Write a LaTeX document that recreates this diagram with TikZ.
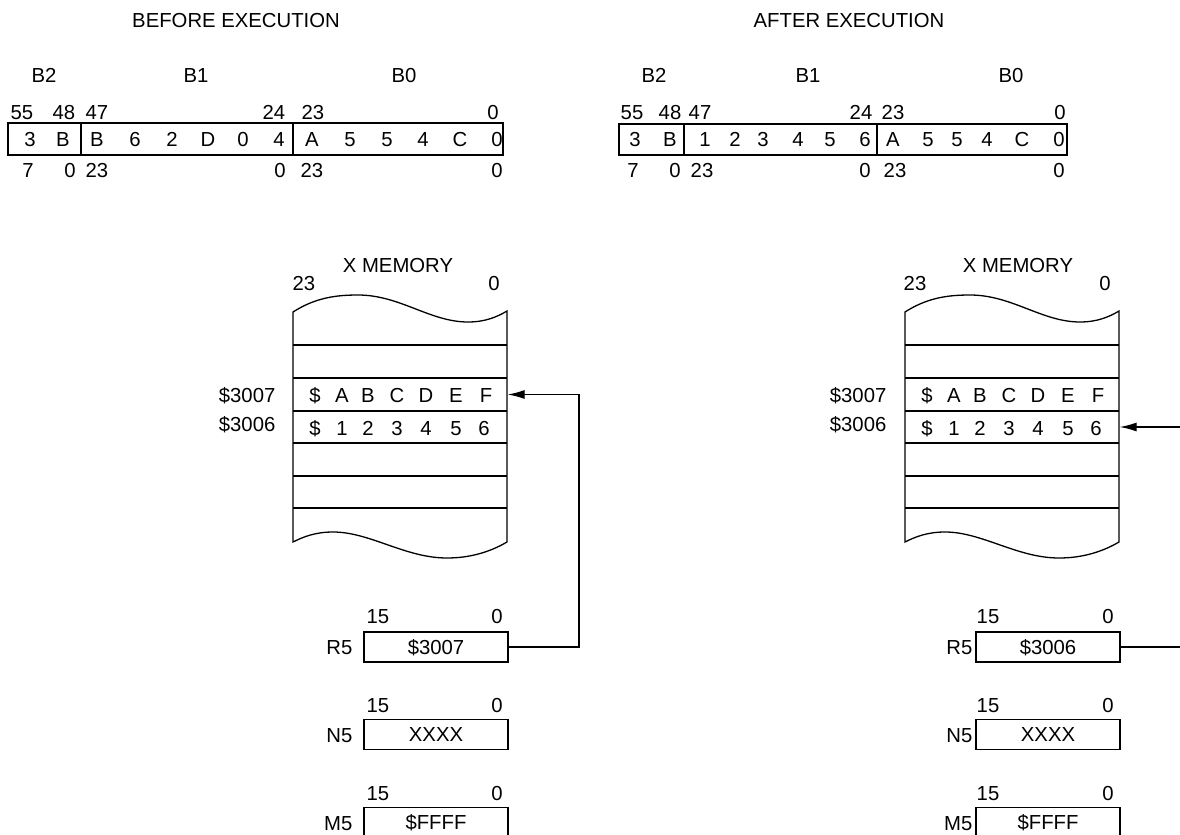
\documentclass[tikz,border=0pt]{standalone}
\usepackage{fontspec}
\setmainfont{Liberation Sans}
\usetikzlibrary{arrows.meta}

\tikzset{
  lbl/.style={inner sep=0pt, text height=7.3pt, text depth=0pt, font=\fontsize{10.15}{12}\selectfont},
  regbox/.style={draw, minimum width=72pt, minimum height=15pt},
  memrow/.style={minimum width=107pt, minimum height=16.5pt},
  ptr/.style={-{Latex[length=8.5pt,width=4.5pt]}},
}

\begin{document}
\begin{tikzpicture}[x=0.5pt, y=-0.5pt, line width=0.65pt, every node/.style={lbl}]
  \useasboundingbox (0,0) rectangle (1180,835);
  \clip (0,0) rectangle (1180,835);
  % Titles
  \node (tbefore) at (236,20) {BEFORE EXECUTION};
  \node (tafter) at (849,20) {AFTER EXECUTION};

  % Accumulator before
  \node (b2a) at (44,75) {B2};
  \node (b1a) at (196,75) {B1};
  \node (b0a) at (404,75) {B0};
  \draw (8,123) rectangle (503,155);
  \draw (81,123) -- (81,155);
  \draw (293,123) -- (293,155);
  \foreach \t/\x [count=\i] in {55/22,48/64,47/97,24/274,23/313,0/493}
    \node (hia\i) at (\x,112) {\t};
  \foreach \d/\x [count=\i] in {3/30,B/63,B/97,6/135,2/172,D/208,0/243,4/279,A/312,5/350,5/387,4/423,C/460,0/497}
    \node (da\i) at (\x,139) {\d};
  \foreach \t/\x [count=\i] in {7/28,0/70,23/97,0/280,23/312,0/497}
    \node (loa\i) at (\x,170) {\t};

  % Accumulator after
  \node (b2b) at (654,75) {B2};
  \node (b1b) at (808,75) {B1};
  \node (b0b) at (1011,75) {B0};
  \draw (619,124) rectangle (1067,155);
  \draw (684,124) -- (684,155);
  \draw (877,124) -- (877,155);
  \foreach \t/\x [count=\i] in {55/632,48/670,47/700,24/861,23/893,0/1060}
    \node (hib\i) at (\x,112) {\t};
  \foreach \d/\x [count=\i] in {3/635,B/670,1/705,2/735,3/763,4/798,5/830,6/865,A/893,5/928,5/957,4/987,C/1022,0/1059}
    \node (db\i) at (\x,139) {\d};
  \foreach \t/\x [count=\i] in {7/633,0/675,23/702,0/865,23/895,0/1059}
    \node (lob\i) at (\x,170) {\t};

  % X memory before
  \node (xma) at (398,265) {X MEMORY};
  \node (xmahi) at (304,283) {23};
  \node (xmalo) at (494,283) {0};
  \draw (293,312) .. controls (315,298) and (335,295) .. (358,295)
    .. controls (400,295) and (430,322) .. (468,322)
    .. controls (485,322) and (497,317) .. (507,311) -- (507,542)
    .. controls (490,552) and (470,558) .. (447,558)
    .. controls (405,558) and (370,532) .. (333,532)
    .. controls (315,532) and (303,537) .. (293,542) -- cycle;
  \foreach \y in {345,378,411,476,508}
    \draw (293,\y) -- (507,\y);
  \draw[line width=1.1pt] (293,443) -- (507,443);
  \node[memrow] (m7a) at (400,394.5) {};
  \node[memrow] (m6a) at (400,427) {};
  \foreach \c/\x [count=\i] in {\$/315,A/342,B/368,C/397,D/426,E/456,F/486}
    \node (ra\i) at (\x,395) {\c};
  \foreach \c/\x [count=\i] in {\$/315,1/342,2/368,3/397,4/426,5/456,6/484}
    \node (sa\i) at (\x,428) {\c};
  \node[anchor=east] (adra7) at (276,395) {\$3007};
  \node[anchor=east] (adra6) at (276,424) {\$3006};

  % Registers before
  \node[regbox] (r5a) at (436,647) {\$3007};
  \node[anchor=east] (r5alab) at (353,647) {R5};
  \node (r5ahi) at (378,616) {15};
  \node (r5alo) at (497,616) {0};
  \node[regbox] (n5a) at (436,734.5) {XXXX};
  \node[anchor=east] (n5alab) at (353,735) {N5};
  \node (n5ahi) at (378,705) {15};
  \node (n5alo) at (497,705) {0};
  \node[regbox] (m5a) at (436,822.5) {\$FFFF};
  \node[anchor=east] (m5alab) at (353,823) {M5};
  \node (m5ahi) at (378,793) {15};
  \node (m5alo) at (497,793) {0};
  \coordinate (turna) at (579,647);
  \draw[ptr] (r5a.east) -- (turna) |- (m7a.east);

  % X memory after
  \node (xmb) at (1018,265) {X MEMORY};
  \node (xmbhi) at (915,283) {23};
  \node (xmblo) at (1105,283) {0};
  \draw (905,312) .. controls (927,298) and (947,295) .. (970,295)
    .. controls (1012,295) and (1042,322) .. (1080,322)
    .. controls (1097,322) and (1109,317) .. (1119,311) -- (1119,542)
    .. controls (1102,552) and (1082,558) .. (1059,558)
    .. controls (1017,558) and (982,532) .. (945,532)
    .. controls (927,532) and (915,537) .. (905,542) -- cycle;
  \foreach \y in {345,378,411,476,508}
    \draw (905,\y) -- (1119,\y);
  \draw[line width=1.1pt] (905,443) -- (1119,443);
  \node[memrow] (m7b) at (1012,394.5) {};
  \node[memrow] (m6b) at (1012,427) {};
  \foreach \c/\x [count=\i] in {\$/927,A/954,B/980,C/1009,D/1038,E/1068,F/1098}
    \node (rb\i) at (\x,395) {\c};
  \foreach \c/\x [count=\i] in {\$/927,1/954,2/980,3/1009,4/1038,5/1068,6/1096}
    \node (sb\i) at (\x,428) {\c};
  \node[anchor=east] (adrb7) at (887,395) {\$3007};
  \node[anchor=east] (adrb6) at (887,424) {\$3006};

  % Registers after
  \node[regbox] (r5b) at (1048,647) {\$3006};
  \node[anchor=east] (r5blab) at (973,647) {R5};
  \node (r5bhi) at (988,616) {15};
  \node (r5blo) at (1108,616) {0};
  \node[regbox] (n5b) at (1048,734.5) {XXXX};
  \node[anchor=east] (n5blab) at (973,735) {N5};
  \node (n5bhi) at (988,705) {15};
  \node (n5blo) at (1108,705) {0};
  \node[regbox] (m5b) at (1048,822.5) {\$FFFF};
  \node[anchor=east] (m5blab) at (973,823) {M5};
  \node (m5bhi) at (988,793) {15};
  \node (m5blo) at (1108,793) {0};
  \coordinate (turnb) at (1195,647);
  \draw[ptr] (r5b.east) -- (turnb) |- (m6b.east);
\end{tikzpicture}
\end{document}
